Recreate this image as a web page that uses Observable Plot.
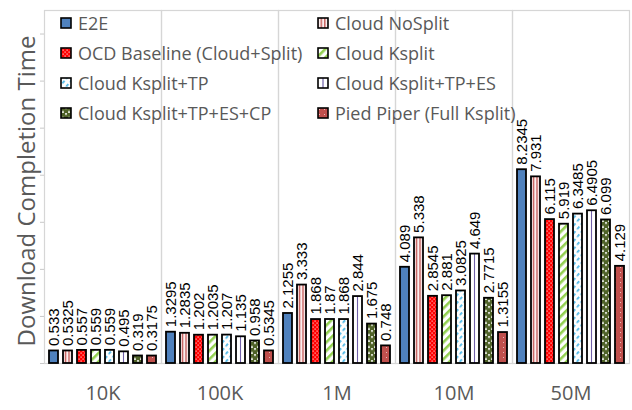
<!DOCTYPE html>
<html><head><meta charset="utf-8">
<script src="https://cdn.jsdelivr.net/npm/d3@7"></script>
<script src="https://cdn.jsdelivr.net/npm/@observablehq/plot@0.6"></script>
<style>
body{margin:0;background:#fff;}
#wrap{position:relative;width:632px;height:410px;overflow:hidden;font-family:"Open Sans",sans-serif;}
#ytitle{position:absolute;left:25px;top:191px;transform:translate(-50%,-50%) rotate(-90deg);white-space:nowrap;font-size:24px;color:#595959;}
#legend{position:absolute;left:60px;top:8px;display:grid;grid-template-columns:257px auto;grid-auto-rows:30px;}
#legend .it{display:flex;align-items:center;font-size:18px;color:#595959;white-space:nowrap;}
#legend svg{margin-right:6px;flex:none;}
</style></head>
<body>
<svg width="0" height="0" style="position:absolute">
<defs>
<pattern id="pNoSplit" width="3.6" height="4" patternUnits="userSpaceOnUse"><rect width="3.6" height="4" fill="#fbeeee"/><rect width="1.3" height="4" fill="#c0504d"/></pattern>
<pattern id="pOCD" width="4" height="4" patternUnits="userSpaceOnUse"><rect width="4" height="4" fill="#ff0000"/><rect x="0.5" y="0.5" width="1.2" height="1.2" fill="#ffc8c8"/><rect x="2.5" y="2.5" width="1.2" height="1.2" fill="#ffc8c8"/></pattern>
<pattern id="pKsplit" width="6" height="6" patternUnits="userSpaceOnUse" patternTransform="rotate(45)"><rect width="6" height="6" fill="#fff"/><rect width="2.6" height="6" fill="#92d050"/></pattern>
<pattern id="pTP" width="5" height="6" patternUnits="userSpaceOnUse" patternTransform="rotate(40)"><rect width="5" height="6" fill="#fff"/><rect width="1.8" height="3.4" fill="#4fb8e8"/></pattern>
<pattern id="pES" width="1" height="1" patternUnits="objectBoundingBox" patternContentUnits="objectBoundingBox"><rect width="1" height="1" fill="#fff"/><rect x="0.44" width="0.12" height="1" fill="#7060a8"/></pattern>
<pattern id="pCP" width="6" height="6" patternUnits="userSpaceOnUse"><rect width="6" height="6" fill="#fff"/><circle cx="3" cy="1.5" r="2.4" fill="#4f6228"/><circle cx="0" cy="4.5" r="2.4" fill="#4f6228"/><circle cx="6" cy="4.5" r="2.4" fill="#4f6228"/></pattern>
<pattern id="pPied" width="5" height="5" patternUnits="userSpaceOnUse"><rect width="5" height="5" fill="#c0504d"/><rect x="2" y="2" width="1" height="1" fill="#e6b9b8"/></pattern>
</defs>
</svg>
<div id="wrap"><div id="ytitle">Download Completion Time</div><div id="legend"></div></div>
<script>
const groups = ["10K", "100K", "1M", "10M", "50M"];
const series = ["E2E", "Cloud NoSplit", "OCD Baseline (Cloud+Split)", "Cloud Ksplit",
  "Cloud Ksplit+TP", "Cloud Ksplit+TP+ES", "Cloud Ksplit+TP+ES+CP", "Pied Piper (Full Ksplit)"];
const e2e          = [0.533, 1.3295, 2.1255, 4.089, 8.2345];
const cloudNoSplit = [0.5325, 1.2835, 3.333, 5.338, 7.931];
const ocdBaseline  = [0.557, 1.202, 1.868, 2.8545, 6.115];
const cloudKsplit  = [0.559, 1.2035, 1.87, 2.881, 5.919];
const ksplitTP     = [0.559, 1.207, 1.868, 3.0825, 6.3485];
const ksplitTPES   = [0.495, 1.135, 2.844, 4.649, 6.4905];
const ksplitTPESCP = [0.319, 0.958, 1.675, 2.7715, 6.099];
const piedPiper    = [0.3175, 0.5345, 0.748, 1.3155, 4.129];
const yTicks = [0, 2, 4, 6, 8, 10, 12, 14];

const seriesValues = [e2e, cloudNoSplit, ocdBaseline, cloudKsplit, ksplitTP, ksplitTPES, ksplitTPESCP, piedPiper];
const fills = ["#4f81bd", "url(#pNoSplit)", "url(#pOCD)", "url(#pKsplit)", "url(#pTP)", "url(#pES)", "url(#pCP)", "url(#pPied)"];

const data = [];
groups.forEach((g, gi) => series.forEach((s, si) => data.push({group: g, series: s, value: seriesValues[si][gi]})));

const chart = Plot.plot({
  width: 632, height: 410,
  marginLeft: 44, marginRight: 3, marginTop: 10, marginBottom: 47,
  fx: {domain: groups, padding: 0, label: null},
  x: {domain: series, paddingInner: 0.38, paddingOuter: 0.3, axis: null},
  y: {domain: [0, 15], axis: null},
  color: {domain: series, range: fills},
  marks: [
    Plot.frame({stroke: "#d6d6d6", strokeWidth: 1.2}),
    Plot.axisY({ticks: yTicks, tickFormat: () => "", tickSize: 4, stroke: "#c8c8c8", label: null, facetAnchor: "left"}),
    Plot.axisFx({anchor: "bottom", tickSize: 0, tickPadding: 22, fontSize: 20, color: "#595959", label: null}),
    Plot.barY(data, {fx: "group", x: "series", y: "value", fill: "series", stroke: "#000", strokeWidth: 1.8}),
    Plot.text(data, {fx: "group", x: "series", y: "value", text: d => String(d.value), rotate: -90, textAnchor: "start", dy: -5, fontSize: 15, fill: "#000", fontFamily: "Liberation Sans"})
  ]
});
chart.style.fontFamily = '"Open Sans", sans-serif';
chart.style.overflow = "visible";
document.getElementById("wrap").prepend(chart);

const legend = document.getElementById("legend");
series.forEach((s, i) => {
  const it = document.createElement("div");
  it.className = "it";
  it.innerHTML = `<svg width="12" height="12"><rect x="1" y="1" width="10" height="10" fill="${fills[i]}" stroke="#000" stroke-width="1.6"/></svg><span>${s}</span>`;
  legend.appendChild(it);
});
</script>
</body></html>
